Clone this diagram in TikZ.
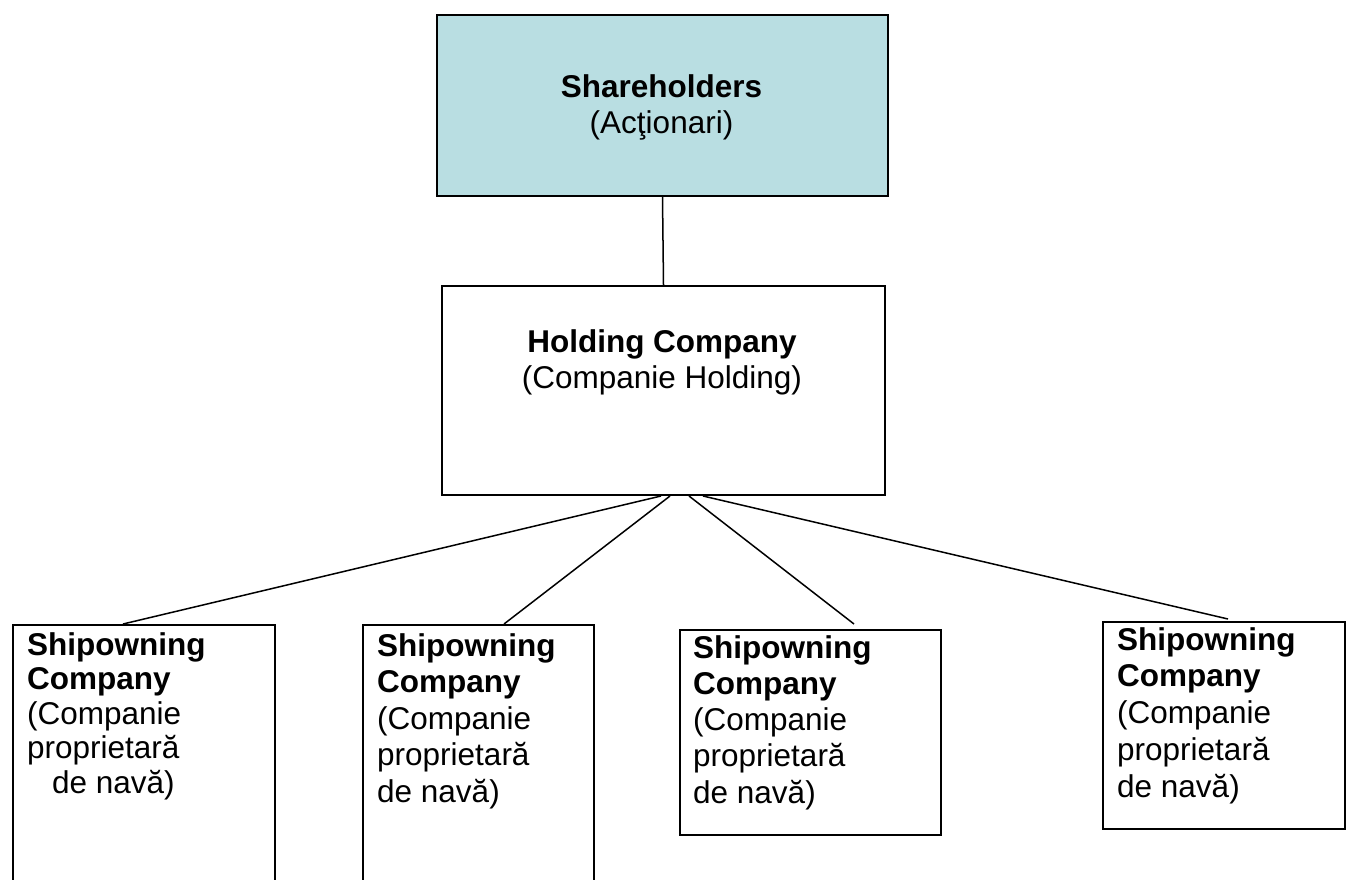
\documentclass[tikz,border=0pt]{standalone}
\usepackage{fontspec}
\setmainfont{Liberation Sans}
\usetikzlibrary{calc}
\definecolor{shfill}{RGB}{185,222,226}
\tikzset{
  boxnode/.style={draw=black, line width=2pt, rectangle, inner sep=0pt, anchor=north west},
  lbl/.style={inner sep=0pt, font=\fontsize{31.5}{36}\selectfont},
  link/.style={draw=black, line width=1.5pt},
}
\begin{document}
\begin{tikzpicture}[x=1pt, y=-1pt]
\clip (0,0) rectangle (1349,879);
\fill[white] (0,0) rectangle (1349,879);
% boxes
\node[boxnode, fill=shfill, minimum width=451pt, minimum height=181pt] (sh) at (436,14) {};
\node[boxnode, minimum width=443pt, minimum height=209pt] (hold) at (441,285) {};
\node[boxnode, minimum width=262pt, minimum height=290pt] (s1) at (12,624) {};
\node[boxnode, minimum width=231pt, minimum height=290pt] (s2) at (362,624) {};
\node[boxnode, minimum width=261pt, minimum height=205pt] (s3) at (679,629) {};
\node[boxnode, minimum width=242pt, minimum height=207pt] (s4) at (1102,621) {};
% texts (anchor base = baseline of the last line)
\node[lbl, align=center, anchor=base] (tsh) at (661.5,133) {\textbf{Shareholders}\\(Acţionari)};
\node[lbl, align=center, anchor=base] (thold) at (662,388) {\textbf{Holding Company}\\(Companie Holding)};
\node[lbl, font=\fontsize{31.5}{34.5}\selectfont, align=left, anchor=base west] (ts1) at (27,793) {\textbf{Shipowning}\\\textbf{Company}\\(Companie\\proprietară\\\hspace*{25pt}de navă)};
\node[lbl, font=\fontsize{31.5}{36.5}\selectfont, align=left, anchor=base west] (ts2) at (377,802) {\textbf{Shipowning}\\\textbf{Company}\\(Companie\\proprietară\\de navă)};
\node[lbl, font=\fontsize{31.5}{36.25}\selectfont, align=left, anchor=base west] (ts3) at (693,803) {\textbf{Shipowning}\\\textbf{Company}\\(Companie\\proprietară\\de navă)};
\node[lbl, font=\fontsize{31.5}{36.75}\selectfont, align=left, anchor=base west] (ts4) at (1117,797) {\textbf{Shipowning}\\\textbf{Company}\\(Companie\\proprietară\\de navă)};
% connector points
\coordinate (h1) at ($(hold.south)+(-2.5,0)$);
\coordinate (h2) at ($(hold.south)+(6.5,0)$);
\coordinate (h3) at ($(hold.south)+(25.5,0)$);
\coordinate (h4) at ($(hold.south)+(39.5,0)$);
\coordinate (e1) at ($(s1.north)+(-21,0)$);
\coordinate (e2) at ($(s2.north)+(25.5,0)$);
\coordinate (e3) at ($(s3.north)+(43.5,-5)$);
\coordinate (e4) at ($(s4.north)+(4,-2)$);
% connectors
\draw[link] (sh.south) -- (hold.north);
\draw[link] (h1) -- (e1);
\draw[link] (h2) -- (e2);
\draw[link] (h3) -- (e3);
\draw[link] (h4) -- (e4);
\end{tikzpicture}
\end{document}
